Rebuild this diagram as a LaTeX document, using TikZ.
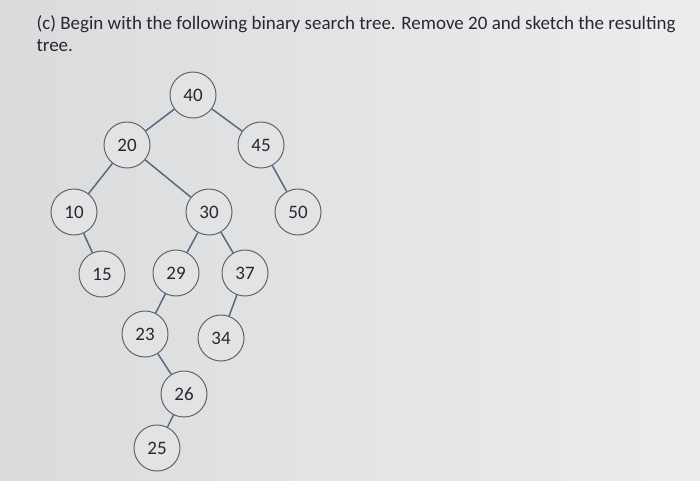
\documentclass[tikz,border=0pt]{standalone}
\usepackage{fontspec}
\setmainfont{Carlito}
\usetikzlibrary{calc}
\definecolor{screen}{RGB}{218,219,220}
\definecolor{screenlight}{RGB}{236,237,238}
\definecolor{keyfill}{RGB}{226,227,228}
\definecolor{keyline}{RGB}{100,100,104}
\definecolor{edgeline}{RGB}{88,104,132}
\definecolor{ink}{RGB}{40,40,45}

\begin{document}
\begin{tikzpicture}[x=1pt,y=-1pt,
    key/.style={circle,draw=keyline,fill=keyfill,line width=1pt,minimum size=46pt,inner sep=0pt,text=ink,font=\fontsize{19}{19}\selectfont},
    branch/.style={draw=edgeline,line width=1.5pt}]
      \shade[left color=screen,right color=screenlight] (0,0) rectangle (700,480);
      \useasboundingbox (0,0) rectangle (700,480);

      \node[anchor=base west,text=ink,font=\fontsize{19}{22}\selectfont] (title) at (33,29) {(c) Begin with the following binary search tree. Remove 20 and sketch the resulting};
      \node[anchor=base west,text=ink,font=\fontsize{19}{22}\selectfont] (title2) at (33,51) {tree.};

      \node[key] (k40) at (193,95) {40};
      \node[key] (k20) at (127,145) {20};
      \node[key] (k45) at (261,145) {45};
      \node[key] (k10) at (74,212) {10};
      \node[key] (k30) at (209,212) {30};
      \node[key] (k50) at (298,212) {50};
      \node[key] (k15) at (102,274) {15};
      \node[key] (k29) at (176,273) {29};
      \node[key] (k37) at (245,273) {37};
      \node[key] (k23) at (145,334) {23};
      \node[key] (k34) at (221,338) {34};
      \node[key] (k26) at (184,394) {26};
      \node[key] (k25) at (157,448) {25};

      \draw[branch] (k40) -- (k20);
      \draw[branch] (k40) -- (k45);
      \draw[branch] (k20) -- (k10);
      \draw[branch] (k20) -- (k30);
      \draw[branch] (k45) -- (k50);
      \draw[branch] (k10) -- (k15);
      \draw[branch] (k30) -- (k29);
      \draw[branch] (k30) -- (k37);
      \draw[branch] (k29) -- (k23);
      \draw[branch] (k37) -- (k34);
      \draw[branch] (k23) -- (k26);
      \draw[branch] (k26) -- (k25);
    \end{tikzpicture}
\end{document}
